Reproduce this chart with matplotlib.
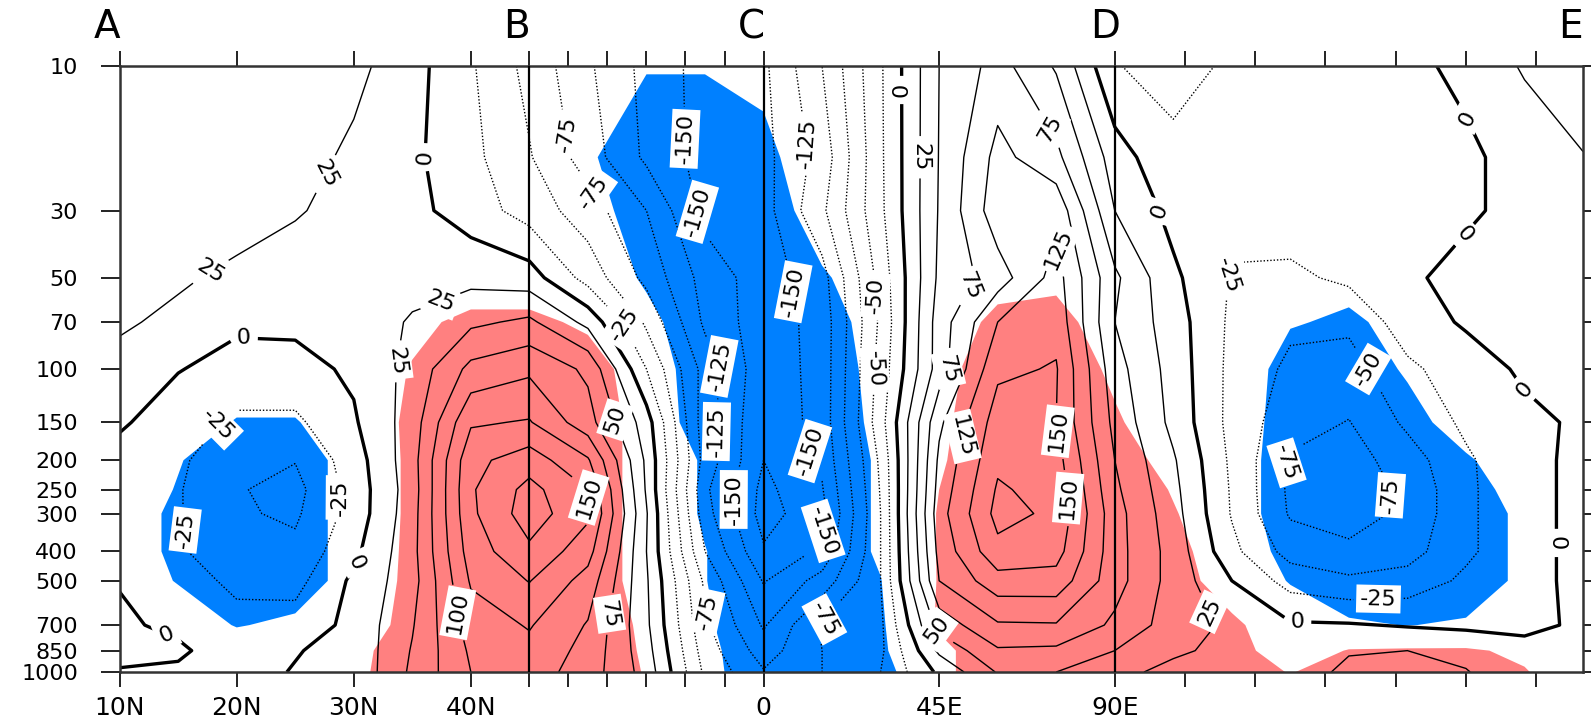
import numpy as np
import matplotlib
matplotlib.use("Agg")
import matplotlib.pyplot as plt
from matplotlib import transforms

# ---------------- data ----------------
# distance along the A-B-C-D-E path (A=0, B=35, C=55, D=85, E=125)
path_pos = [0, 5, 10, 15, 20, 25, 30, 35, 40, 45, 50, 55, 60, 65, 70, 75, 80, 85,
            90, 95, 100, 105, 110, 115, 120, 125]
pressure = [10, 20, 30, 50, 70, 100, 150, 200, 250, 300, 400, 500, 700, 850, 1000]

u_p10 = [42, 44, 45, 42, 32, 9, -22, -58, -96, -133, -160, -155, -100, -28, 50, 85, 47, -24, -32, -22, -15, -10, -5, 5, 28, 40]
u_p20 = [40, 42, 43, 35, 20, 5, -18, -48, -87, -130, -160, -158, -115, -29, 51, 108, 82, 12, -20, -18, -13, -10, -7, -4, 8, 24]
u_p30 = [38, 38, 35, 27, 17, 7, -12, -36, -63, -100, -158, -160, -105, -30, 52, 115, 118, 25, -8, -18, -12, -9, -6, -3, 6, 14]
u_p50 = [32, 28, 20, 14, 12, 15, 18, 12, -35, -82, -135, -163, -135, -40, 55, 88, 135, 55, 5, -27, -30, -20, -3, 6, 8, 10]
u_p70 = [28, 20, 4, 5, 8, 28, 45, 55, 18, -55, -130, -165, -140, -45, 62, 125, 142, 50, 12, -30, -45, -45, -12, 3, 8, 8]
u_p100 = [18, 1, -8, -8, 4, 33, 82, 95, 70, -25, -110, -167, -140, -40, 62, 145, 152, 60, 15, -32, -55, -60, -30, -12, 4, 6]
u_p150 = [3, -12, -30, -30, -3, 37, 122, 127, 85, 12, -115, -170, -140, -35, 95, 162, 150, 68, 18, -33, -65, -76, -45, -20, -6, 4]
u_p200 = [-8, -20, -45, -49, -12, 40, 143, 163, 128, 20, -110, -175, -145, -45, 105, 170, 160, 75, 28, -30, -78, -86, -62, -29, -6, 5]
u_p250 = [-12, -23, -48, -58, -15, 38, 147, 183, 150, 22, -120, -182, -152, -48, 110, 178, 166, 80, 32, -28, -80, -88, -70, -30, -6, 5]
u_p300 = [-12, -23, -47, -54, -15, 40, 145, 188, 155, 27, -115, -185, -158, -50, 115, 183, 170, 85, 35, -27, -78, -85, -70, -30, -6, 5]
u_p400 = [-8, -22, -40, -44, -6, 42, 137, 170, 135, 25, -100, -172, -145, -50, 108, 168, 160, 85, 40, -18, -60, -70, -60, -30, -6, 5]
u_p500 = [-1, -15, -30, -33, 5, 40, 128, 151, 115, 28, -80, -152, -115, -50, 100, 140, 140, 85, 40, 0, -35, -45, -40, -20, -6, 5]
u_p700 = [3, -4, -18, -15, 7, 48, 112, 127, 98, 30, -70, -128, -72, -55, 60, 97, 98, 70, 38, 20, 3, 2, -2, -5, -6, 4]
u_p850 = [4, 3, -10, -1, 6, 52, 104, 118, 92, 35, -62, -112, -75, -55, 30, 72, 70, 50, 28, 20, 20, 24, 25, 20, 8, 6]
u_p1000 = [-1, -3, -6, 1, 5, 55, 100, 112, 88, 40, -55, -98, -75, -50, 5, 52, 50, 30, 20, 16, 18, 28, 28, 26, 12, 6]
wind = [u_p10, u_p20, u_p30, u_p50, u_p70, u_p100, u_p150, u_p200, u_p250,
        u_p300, u_p400, u_p500, u_p700, u_p850, u_p1000]

# significance flag (+ red, - blue) at the same points
s_p10 = [0, 0, 0, 0, 0, 0, 0, 0, -0.2, -0.45, -0.45, -0.3, 0, 0, 0, 0, 0, 0, 0, 0, 0, 0, 0, 0, 0, 0]
s_p20 = [0, 0, 0, 0, 0, 0, 0, 0, -0.4, -1, -1, -0.7, 0, 0, 0, 0, 0, 0, 0, 0, 0, 0, 0, 0, 0, 0]
s_p30 = [0, 0, 0, 0, 0, 0, 0, 0, -0.1, -1, -1, -1, -0.05, 0, 0, 0, 0, 0, 0, 0, 0, 0, 0, 0, 0, 0]
s_p50 = [0, 0, 0, 0, 0, 0, 0, 0, 0, -0.6, -1, -1, -0.6, 0, 0, 0.2, 0.3, 0, 0, 0, -0.2, -0.3, 0, 0, 0, 0]
s_p70 = [0, 0, 0, 0, 0, 0.3, 0.7, 0.7, 0.35, -0.3, -1, -1, -1, 0, 0, 0.7, 0.8, 0, 0, 0, -0.45, -0.6, -0.3, 0, 0, 0]
s_p100 = [0, 0, 0, 0, 0, 0.55, 1, 1, 0.9, 0, -1, -1, -1, -0.2, 0.2, 1, 1, 0.35, 0, 0, -0.8, -1, -0.4, 0, 0, 0]
s_p150 = [0, -0.1, -0.55, -0.55, 0, 0.65, 1, 1, 1, 0.15, -1, -1, -1, -0.3, 0.35, 1, 1, 0.6, 0, 0, -0.9, -1, -0.8, -0.1, 0, 0]
s_p200 = [0, -0.45, -1, -1, -0.1, 0.65, 1, 1, 1, 0.15, -0.6, -1, -1, -0.4, 0.42, 1, 1, 0.9, 0.2, 0, -1, -1, -1, -0.6, 0, 0]
s_p250 = [0, -0.55, -1, -1, -0.1, 0.65, 1, 1, 1, 0.15, -0.6, -1, -1, -0.4, 0.5, 1, 1, 1, 0.45, 0, -1, -1, -1, -0.9, -0.1, 0]
s_p300 = [0, -0.7, -1, -1, -0.1, 0.65, 1, 1, 1, 0.15, -0.6, -1, -1, -0.4, 0.55, 1, 1, 1, 0.55, 0, -1, -1, -1, -1, -0.3, 0]
s_p400 = [0, -0.7, -1, -1, -0.1, 0.68, 1, 1, 1, 0.15, -0.48, -1, -1, -0.4, 0.55, 1, 1, 1, 0.75, 0, -0.75, -1, -1, -1, -0.3, 0]
s_p500 = [0, -0.55, -1, -1, -0.1, 0.71, 1, 1, 1, 0.15, -0.48, -1, -1, -0.52, 0.55, 1, 1, 1, 0.85, 0.1, -0.55, -1, -1, -1, -0.3, 0]
s_p700 = [0, 0, -0.55, -0.32, 0, 0.8, 1, 1, 1, 0.35, -0.4, -1, -1, -0.6, 0.6, 1, 1, 1, 1, 0.65, 0, -0.4, -0.52, -0.4, -0.1, 0]
s_p850 = [0, 0, 0, 0, 0.05, 1.37, 1, 1, 1, 0.4, -0.3, -1, -1, -0.62, 0.3, 1, 1, 1, 1, 0.85, 0, 0.55, 0.6, 0.6, 0.35, 0]
s_p1000 = [0, 0, 0, 0, 0.05, 1.65, 1, 1, 1, 0.45, -0.25, -1, -1, -0.8, 0.3, 1, 1, 1, 1, 1, 0.45, 1, 1, 1, 0.55, 0]
signif = [s_p10, s_p20, s_p30, s_p50, s_p70, s_p100, s_p150, s_p200, s_p250,
          s_p300, s_p400, s_p500, s_p700, s_p850, s_p1000]

contour_levels = list(range(-200, 201, 25))
y_tick_values = [10, 30, 50, 70, 100, 150, 200, 250, 300, 400, 500, 700, 850, 1000]
x_tick_pos = [0, 10, 20, 30, 35, 35 + 20 / 6, 35 + 40 / 6, 45, 35 + 80 / 6, 35 + 100 / 6,
              55, 70, 85, 91, 97, 103, 109, 115, 121]
x_tick_text = {0: '10N', 10: '20N', 20: '30N', 30: '40N', 55: '0', 70: '45E', 85: '90E'}
section_names = ['A', 'B', 'C', 'D', 'E']
section_text_pos = [-1.1, 33.9, 54.0, 84.2, 123.9]
divider_pos = [35, 55, 85]

# label anchor spots (path distance, pressure)
label_spots = [(17.3, 22.4), (7.5, 45.8), (25.7, 20), (10.6, 79), (7.5, 143), (7.1, 334),
               (19.2, 266), (19, 415), (4.5, 680), (23.5, 94), (27.2, 57), (28.6, 640),
               (40.3, 265), (42.9, 145), (41.6, 640), (43.2, 71), (39, 16.6), (41.2, 25),
               (48, 17.4), (50.2, 29.5), (51.5, 97), (51.7, 160), (51.9, 270), (50.4, 630),
               (59.5, 17.8), (58.2, 55), (59.1, 186), (59.7, 340), (64.1, 100), (59.9, 655),
               (64.7, 57), (66.2, 12), (68.1, 20), (73.3, 55), (71.2, 101), (72, 167),
               (69.9, 720), (79, 16.5), (80.3, 40), (80.3, 160), (81.6, 265), (89.6, 29.5),
               (93.7, 48), (93.2, 630), (100.6, 645), (107.5, 96), (98.9, 203), (110.1, 266),
               (107.5, 523), (114.5, 15.3), (114.5, 35), (120.1, 116), (121.8, 375)]

# ---------------- figure ----------------
plt.rcParams['font.family'] = ['DejaVu Sans']
fig = plt.figure(figsize=(15.91, 7.24), dpi=100)
fig.patch.set_facecolor('white')
ax = fig.add_axes([0.0752, 0.0718, 0.9198, 0.837])

X, Y = np.meshgrid(np.array(path_pos, float), np.log10(np.array(pressure, float)))
U = np.array(wind, float)
S = np.array(signif, float)

ax.contourf(X, Y, S, levels=[-10, -0.5, 0.5, 10],
            colors=['#0080FF', (1, 1, 1, 0), '#FF8080'], antialiased=True)

lws = [2.4 if v == 0 else 1.0 for v in contour_levels]
lss = ['solid' if v >= 0 else (0, (1.0, 1.4)) for v in contour_levels]
cs = ax.contour(X, Y, U, levels=contour_levels, colors='k', linewidths=lws,
                linestyles=lss)

spots = [(x, np.log10(p)) for x, p in label_spots]
labels = ax.clabel(cs, contour_levels, manual=spots, inline=True, fmt='%d',
                   fontsize=16, inline_spacing=7)
for t in labels:
    t.set_bbox(dict(boxstyle='square,pad=0.18', facecolor='white', edgecolor='none'))

for xv in divider_pos:
    ax.axvline(xv, color='k', lw=1.6, zorder=3)

ax.set_xlim(0, 125)
ax.set_ylim(3, 1)
ax.set_yticks(np.log10(y_tick_values))
ax.set_yticklabels([str(v) for v in y_tick_values], fontsize=16)
ax.set_xticks(x_tick_pos)
ax.set_xticklabels([x_tick_text.get(round(v, 3), '') if abs(v - round(v)) < 1e-6 else ''
                    for v in x_tick_pos], fontsize=18)
ax.tick_params(axis='y', direction='out', length=14, width=1.4, pad=16,
               right=True, colors='#222222', labelcolor='k')
ax.tick_params(axis='x', direction='out', length=11, width=1.4, pad=6,
               top=True, colors='#222222', labelcolor='k')
ax.minorticks_off()
for sp in ax.spines.values():
    sp.set_linewidth(1.8)
    sp.set_color('#333333')

trans = transforms.blended_transform_factory(ax.transData, ax.transAxes)
for name, xv in zip(section_names, section_text_pos):
    ax.text(xv, 1.064, name, transform=trans, ha='center', va='center',
            fontsize=28, clip_on=False)

fig.savefig('out.png', dpi=100, facecolor='white')
